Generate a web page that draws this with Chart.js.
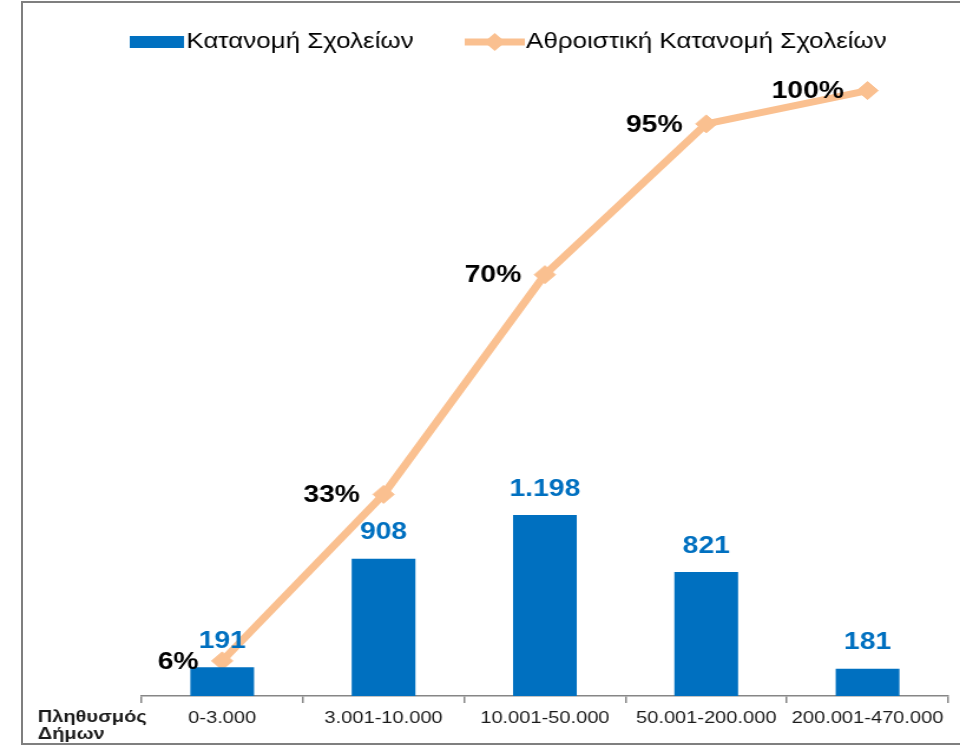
<!DOCTYPE html>
<html>
<head>
<meta charset="utf-8">
<script src="https://cdn.jsdelivr.net/npm/chart.js@4"></script>
<style>
  html, body { margin: 0; padding: 0; background: #fff; overflow: hidden; }
  #wrap { position: absolute; left: 0; top: 0; width: 814px; height: 745px; transform: scaleX(1.1794); transform-origin: 0 0; }
  #frame { position: absolute; left: 21px; top: 1px; width: 1000px; height: 740px; border: 2px solid #7f7f7f; pointer-events: none; }
</style>
</head>
<body>
<div id="wrap"><canvas id="chart" width="814" height="745"></canvas></div>
<div id="frame"></div>
<script>
// data
const categories = ['0-3.000', '3.001-10.000', '10.001-50.000', '50.001-200.000', '200.001-470.000'];
const schools = [191, 908, 1198, 821, 181];
const cumulativePct = [5.8, 33.3, 69.6, 94.5, 100];
const schoolLabels = ['191', '908', '1.198', '821', '181'];
const pctLabels = ['6%', '33%', '70%', '95%', '100%'];

const barColor = '#0070C0';
const lineColor = '#FAC090';
const fontFamily = '"Liberation Sans", Arial, sans-serif';

// value labels + legend + axis title drawn straight onto the canvas
const labelsPlugin = {
  id: 'labels',
  afterDatasetsDraw(chart) {
    const ctx = chart.ctx;
    ctx.save();
    ctx.font = 'bold 24px ' + fontFamily;
    ctx.textBaseline = 'middle';

    const bars = chart.getDatasetMeta(0).data;
    ctx.fillStyle = barColor;
    ctx.textAlign = 'center';
    bars.forEach((bar, i) => {
      ctx.fillText(schoolLabels[i], bar.x, bar.y - 26);
    });

    const points = chart.getDatasetMeta(1).data;
    ctx.fillStyle = '#000';
    ctx.textAlign = 'right';
    points.forEach((pt, i) => {
      ctx.fillText(pctLabels[i], pt.x - 20, pt.y + 1);
    });
    ctx.restore();
  },
  afterDraw(chart) {
    const ctx = chart.ctx;
    ctx.save();
    ctx.textBaseline = 'middle';
    ctx.textAlign = 'left';
    ctx.font = '22px ' + fontFamily;
    ctx.fillStyle = '#000';

    // legend: bar series
    ctx.fillStyle = barColor;
    ctx.fillRect(110, 36, 46, 12);
    ctx.fillStyle = '#000';
    ctx.fillText('Κατανομή Σχολείων', 158, 42);

    // legend: line series with marker
    ctx.strokeStyle = lineColor;
    ctx.lineWidth = 7;
    ctx.beginPath();
    ctx.moveTo(394, 42);
    ctx.lineTo(445, 42);
    ctx.stroke();
    ctx.fillStyle = lineColor;
    ctx.beginPath();
    ctx.moveTo(419.5, 33);
    ctx.lineTo(428.5, 42);
    ctx.lineTo(419.5, 51);
    ctx.lineTo(410.5, 42);
    ctx.closePath();
    ctx.fill();
    ctx.fillStyle = '#000';
    ctx.fillText('Αθροιστική Κατανομή Σχολείων', 446, 42);

    // x axis title
    ctx.font = 'bold 17px ' + fontFamily;
    ctx.fillStyle = '#1a1a1a';
    ctx.fillText('Πληθυσμός', 32, 717);
    ctx.fillText('Δήμων', 32, 734);
    ctx.restore();
  }
};

const ctx = document.getElementById('chart').getContext('2d');
new Chart(ctx, {
  type: 'bar',
  data: {
    labels: categories,
    datasets: [
      {
        type: 'bar',
        label: 'Κατανομή Σχολείων',
        data: schools,
        backgroundColor: barColor,
        categoryPercentage: 1,
        barPercentage: 0.395,
        yAxisID: 'y',
        order: 0
      },
      {
        type: 'line',
        label: 'Αθροιστική Κατανομή Σχολείων',
        data: cumulativePct,
        borderColor: lineColor,
        backgroundColor: lineColor,
        borderWidth: 7,
        pointStyle: 'rectRot',
        pointRadius: 9,
        pointBorderWidth: 1,
        tension: 0,
        yAxisID: 'y1',
        order: 1
      }
    ]
  },
  options: {
    responsive: false,
    animation: false,
    devicePixelRatio: 1,
    layout: { padding: { left: 120, right: 8, top: 70, bottom: 0 } },
    plugins: {
      legend: { display: false },
      tooltip: { enabled: false }
    },
    scales: {
      x: {
        offset: true,
        grid: {
          display: true,
          offset: true,
          drawOnChartArea: false,
          drawTicks: true,
          tickLength: 7,
          color: '#868686',
          lineWidth: 1.5
        },
        border: { display: true, color: '#868686', width: 1.5 },
        ticks: {
          color: '#1a1a1a',
          font: { family: fontFamily, size: 17 },
          padding: 5,
          maxRotation: 0,
          autoSkip: false
        },
        afterFit: scale => { scale.height = 49; }
      },
      y: {
        display: false,
        min: 0,
        max: 4143
      },
      y1: {
        display: false,
        min: 0,
        max: 103.4
      }
    }
  },
  plugins: [labelsPlugin]
});
</script>
</body>
</html>
